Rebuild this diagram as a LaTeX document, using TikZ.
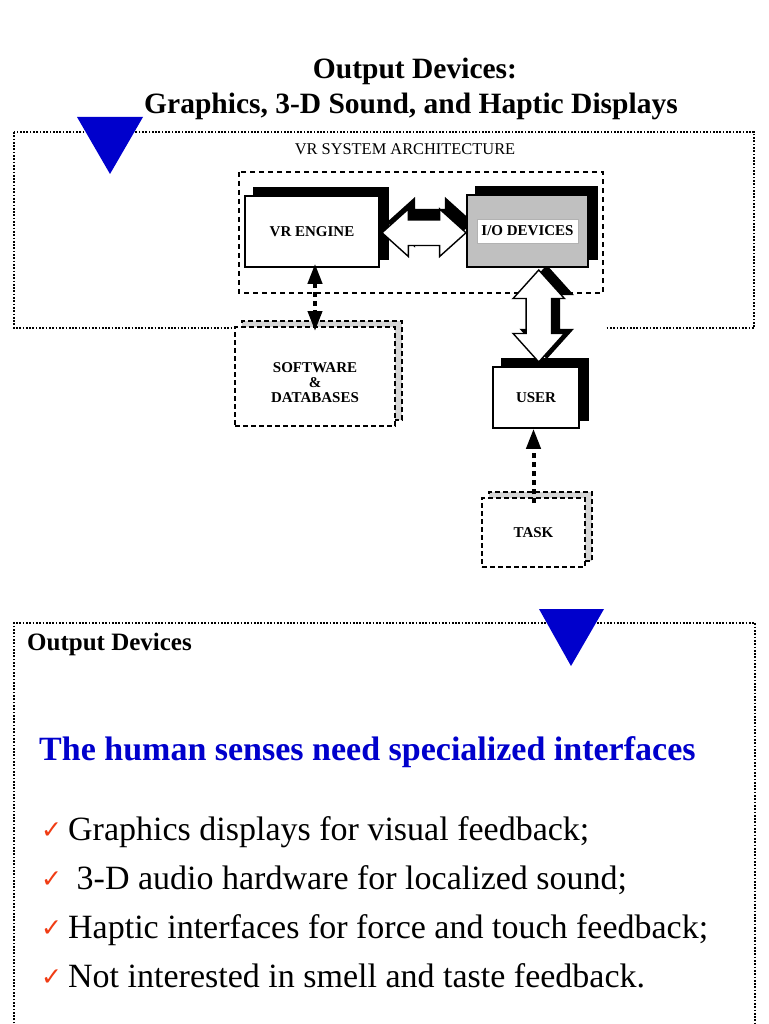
\documentclass[tikz,border=0pt]{standalone}
\usepackage{fontspec}
\setmainfont{Liberation Serif}
\newfontfamily\tickfont{DejaVu Sans}
\usetikzlibrary{positioning,calc,arrows.meta,shapes.arrows,shadows}
\definecolor{slideblue}{RGB}{0,0,204}
\definecolor{tickred}{RGB}{240,60,20}
\definecolor{iogray}{RGB}{192,192,192}
\pgfdeclarelayer{back}
\pgfdeclarelayer{shade}
\pgfsetlayers{back,shade,main}
\newcommand{\boxfont}{\bfseries\fontsize{15}{15}\selectfont}

\begin{document}
\begin{tikzpicture}[x=1pt,y=-1pt,>={Triangle[length=20pt,width=14pt]},
  every node/.style={inner sep=0pt},
  dotframe/.style={line width=1.8pt,dash pattern=on 1.7pt off 1.6pt},
  solidbox/.style={draw,line width=1.6pt,fill=white,font=\boxfont,
    copy shadow={shadow xshift=9pt,shadow yshift=8pt,fill=black,draw=black}},
  dashbox/.style={draw,line width=2pt,dash pattern=on 5pt off 3pt,fill=white,align=center,font=\boxfont,
    copy shadow={shadow xshift=7pt,shadow yshift=6pt,fill=black!16,draw=black}},
  blockarrow/.style={double arrow,draw,line width=1.4pt,fill=white,inner xsep=0pt,inner ysep=12pt,
    double arrow head extend=11pt,double arrow tip angle=84},
  dashlink/.style={line width=4pt,dash pattern=on 5pt off 4pt},
  itemtext/.style={anchor=base west,font=\fontsize{34}{34}\selectfont},
  checkmk/.style={anchor=base west,text=tickred,font=\tickfont\fontsize{25}{25}\selectfont}]
\useasboundingbox (0,0) rectangle (768,1024);

\node[anchor=base,font=\bfseries\fontsize{29.5}{35}\selectfont] (title1) at (415,79) {Output Devices:};
\node[anchor=base,font=\bfseries\fontsize{29.5}{35}\selectfont] (title2) at (411,114) {Graphics, 3-D Sound, and Haptic Displays};

\begin{pgfonlayer}{back}
\draw[dotframe] (14,132) rectangle (754,328);
\fill[white] (232,134) rectangle (606,573);
\draw[line width=1.3pt,dash pattern=on 5pt off 4pt] (239,172) rectangle (603,293);
\end{pgfonlayer}
\fill[slideblue] (77,117) -- (143,117) -- (110,174) -- cycle;

\node[anchor=base,font=\fontsize{16.4}{16.4}\selectfont] (arch) at (405,155) {VR SYSTEM ARCHITECTURE};

\node[solidbox,minimum width=134pt,minimum height=71pt] (eng) at (312,231.5) {VR ENGINE};
\node[solidbox,fill=iogray,minimum width=121pt,minimum height=72pt] (io) at (527.5,231) {};
\node[draw=black!30,line width=0.6pt,fill=white,minimum width=101pt,minimum height=24pt,font=\boxfont] (iolbl) at (io.center) {I/O DEVICES};
\node[dashbox,minimum width=160pt,minimum height=99pt] (sw) at (315,376.5) {};
\node[align=center,font=\boxfont] (swtext) at ([yshift=-6pt]sw.center) {SOFTWARE\\\&\\DATABASES};
\node[solidbox,minimum width=86pt,minimum height=61pt] (user) at (536,397.5) {USER};
\node[dashbox,minimum width=103pt,minimum height=69pt] (task) at (533.5,532.5) {TASK};

\begin{pgfonlayer}{shade}
\node[blockarrow,fill=black,minimum height=84pt] (hshade) at ($(eng.east)!0.5!(io.west)+(7,-9)$) {};
\node[blockarrow,fill=black,double arrow head extend=13pt,minimum height=92pt,rotate=90] (vshade) at ($(io.south)!0.5!(user.north)+(15,-5)$) {};
\end{pgfonlayer}
\node[blockarrow,minimum height=84pt] (harrow) at ($(eng.east)!0.5!(io.west)+(1,1.5)$) {};
\node[blockarrow,double arrow head extend=13pt,minimum height=92pt,rotate=90] (varrow) at ($(io.south)!0.5!(user.north)+(7,-1)$) {};

\draw[dashlink,<->,shorten <=-4pt,shorten >=-5pt] (sw.north |- eng.south) -- (sw.north);
\draw[dashlink,->,shorten <=-6pt] (task.north) -- (task.north |- user.south);

\draw[dotframe] (14,1030) -- (14,623) -- (755,623) -- (755,1030);
\fill[slideblue] (539,609) -- (604,609) -- (571,666) -- cycle;
\node[anchor=base west,font=\bfseries\fontsize{25}{25}\selectfont] (sub) at (27,650) {Output Devices};
\node[anchor=base west,text=slideblue,font=\bfseries\fontsize{34}{34}\selectfont] (head) at (39,760) {The human senses need specialized interfaces};

\node[checkmk] (c1) at (41,838) {✓};
\node[itemtext] (i1) at (68,840) {Graphics displays for visual feedback;};
\node[checkmk] (c2) at (41,887) {✓};
\node[itemtext] (i2) at (68,889) {\ 3-D audio hardware for localized sound;};
\node[checkmk] (c3) at (41,936) {✓};
\node[itemtext] (i3) at (68,938) {Haptic interfaces for force and touch feedback;};
\node[checkmk] (c4) at (41,985) {✓};
\node[itemtext] (i4) at (68,987) {Not interested in smell and taste feedback.};
\end{tikzpicture}
\end{document}
